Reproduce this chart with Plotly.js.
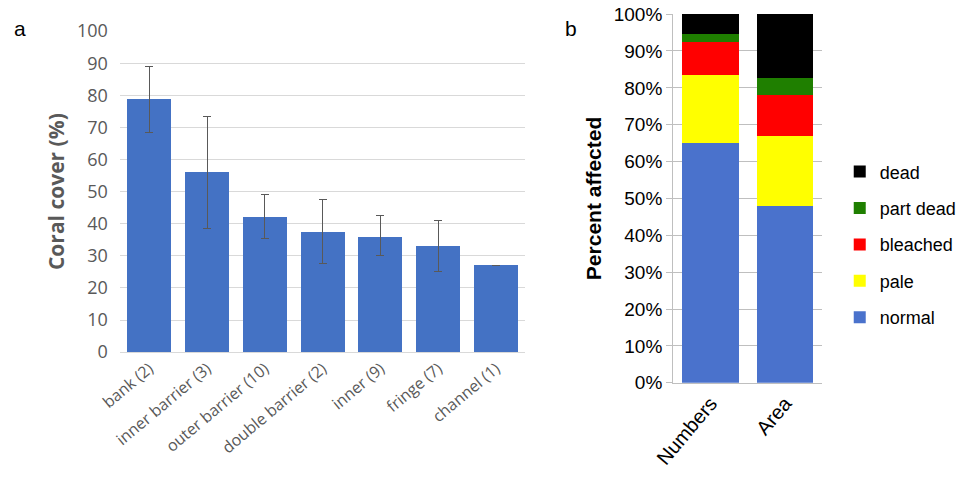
<!DOCTYPE html>
<html>
<head>
<script src="https://cdn.plot.ly/plotly-3.0.1.min.js"></script>
<style>body{margin:0;background:#fff}</style>
</head>
<body>
<div id="plot" style="width:963px;height:487px"></div>
<script>
// panel a: coral cover by reef type
var reefTypes = ['bank (2)', 'inner barrier (3)', 'outer barrier (10)', 'double barrier (2)', 'inner (9)', 'fringe (7)', 'channel (1)'];
var coverMean = [79, 56, 42, 37.5, 36, 33, 27];
var errUp = [10, 17.5, 7, 10, 6.5, 8, 0];
var errDown = [10.5, 17.5, 6.5, 10, 6, 8, 0];

// panel b: condition of corals
var basis = ['Numbers', 'Area'];
var normal = [65, 48];
var pale = [18.5, 19];
var bleached = [9, 11];
var partDead = [2.2, 4.7];
var dead = [5.3, 17.3];

var coverBars = {
	x: reefTypes,
	y: coverMean,
	type: 'bar',
	marker: {color: '#4472C4'},
	width: 0.76,
	error_y: {
		type: 'data',
		symmetric: false,
		array: errUp,
		arrayminus: errDown,
		color: '#595959',
		thickness: 1,
		width: 4
	},
	showlegend: false,
	xaxis: 'x',
	yaxis: 'y'
};

function stack(name, vals, color, rank) {
	return {
		x: basis,
		y: vals,
		name: name,
		legendgroup: name,
		legendrank: rank,
		type: 'bar',
		width: 0.76,
		marker: {color: color},
		xaxis: 'x2',
		yaxis: 'y2'
	};
}

var data = [
	coverBars,
	stack('normal', normal, '#4A72CC', 5),
	stack('pale', pale, '#FFFF00', 4),
	stack('bleached', bleached, '#FF0000', 3),
	stack('part dead', partDead, '#1F7F00', 2),
	stack('dead', dead, '#000000', 1)
];

var arial = 'Liberation Sans, Arial, sans-serif';

var layout = {
	width: 963,
	height: 487,
	margin: {l: 0, r: 0, t: 0, b: 0},
	barmode: 'stack',
	paper_bgcolor: '#fff',
	plot_bgcolor: 'rgba(0,0,0,0)',
	font: {family: 'Open Sans, sans-serif', color: '#595959', size: 17},
	xaxis: {
		domain: [0.125, 0.545],
		anchor: 'y',
		tickangle: -40,
		showline: true,
		linecolor: '#d9d9d9',
		ticks: '',
		tickfont: {size: 16, color: '#595959'}
	},
	yaxis: {
		domain: [0.277, 0.936],
		anchor: 'x',
		range: [0, 100],
		dtick: 10,
		gridcolor: '#d9d9d9',
		zeroline: false,
		tickfont: {size: 18, color: '#595959'},
		ticklen: 8,
		ticks: 'outside',
		tickcolor: 'rgba(0,0,0,0)',
		title: {text: '<b>Coral cover (%)</b>', font: {size: 21, color: '#595959'}, standoff: 6}
	},
	xaxis2: {
		domain: [0.699, 0.854],
		anchor: 'y2',
		tickangle: -50,
		showline: true,
		linecolor: '#bfbfbf',
		ticks: '',
		tickfont: {family: arial, size: 20, color: '#000'}
	},
	yaxis2: {
		domain: [0.214, 0.971],
		anchor: 'x2',
		range: [0, 100],
		dtick: 10,
		ticksuffix: '%',
		gridcolor: '#bfbfbf',
		showline: true,
		linecolor: '#bfbfbf',
		zeroline: false,
		ticks: 'outside',
		ticklen: 6,
		tickcolor: '#bfbfbf',
		tickfont: {family: arial, size: 19, color: '#000'},
		title: {text: '<b>Percent affected</b>', font: {family: arial, size: 21, color: '#000'}, standoff: 6}
	},
	legend: {
		x: 0.872, y: 0.685, xanchor: 'left', yanchor: 'top',
		traceorder: 'grouped',
		font: {family: arial, size: 18, color: '#000'},
		itemwidth: 20,
		tracegroupgap: 10
	},
	annotations: [
		{text: 'a', x: 0.012, y: 0.97, xref: 'paper', yref: 'paper', showarrow: false, xanchor: 'left', font: {family: arial, size: 21, color: '#000'}},
		{text: 'b', x: 0.585, y: 0.97, xref: 'paper', yref: 'paper', showarrow: false, xanchor: 'left', font: {family: arial, size: 21, color: '#000'}}
	]
};

Plotly.newPlot('plot', data, layout, {displayModeBar: false});
</script>
</body>
</html>
